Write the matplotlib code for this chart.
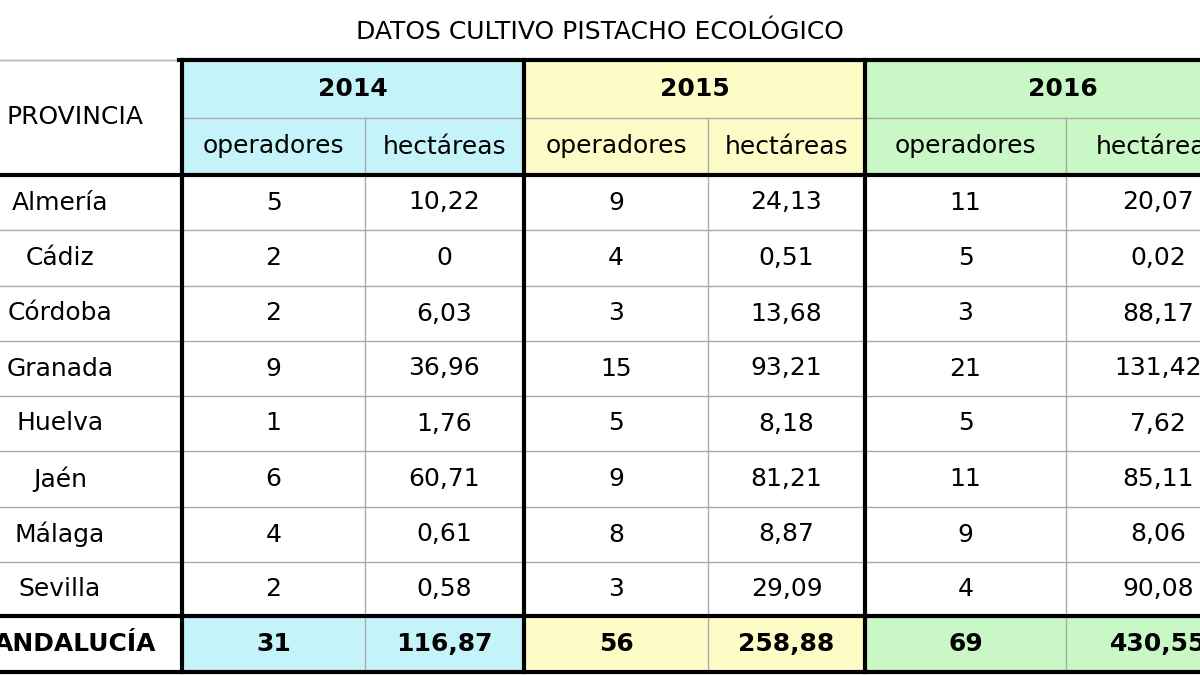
import matplotlib
matplotlib.use("Agg")
import matplotlib.pyplot as plt
from matplotlib.patches import Rectangle

title = "DATOS CULTIVO PISTACHO ECOLÓGICO"
years = ["2014", "2015", "2016"]
subheads = ["operadores", "hectáreas"]
provinces = ["Almería", "Cádiz", "Córdoba", "Granada", "Huelva", "Jaén", "Málaga", "Sevilla"]
ops_2014 = ["5", "2", "2", "9", "1", "6", "4", "2"]
ha_2014 = ["10,22", "0", "6,03", "36,96", "1,76", "60,71", "0,61", "0,58"]
ops_2015 = ["9", "4", "3", "15", "5", "9", "8", "3"]
ha_2015 = ["24,13", "0,51", "13,68", "93,21", "8,18", "81,21", "8,87", "29,09"]
ops_2016 = ["11", "5", "3", "21", "5", "11", "9", "4"]
ha_2016 = ["20,07", "0,02", "88,17", "131,42", "7,62", "85,11", "8,06", "90,08"]
total_label = "ANDALUCÍA"
totals = ["31", "116,87", "56", "258,88", "69", "430,55"]

colors = ["#c4f4fa", "#fdfcc6", "#c9f7c6"]
xcols = [-40, 182, 365, 524, 708, 865, 1066, 1250]
yrow = [60, 118, 175, 230, 286, 341, 396, 451, 507, 562, 616, 672]

fig = plt.figure(figsize=(12, 6.75), dpi=100)
ax = fig.add_axes([0, 0, 1, 1])
ax.set_xlim(0, 1200); ax.set_ylim(675, 0); ax.axis("off")
fs = 18
fam = ["DejaVu Sans"]

ax.text(600, 32, title, ha="center", va="center", fontsize=18, family=fam)
ax.plot([0, 1200], [60, 60], color="#bbbbbb", lw=1)

for g in range(3):
    x0, x1 = xcols[1 + 2 * g], xcols[3 + 2 * g]
    ax.add_patch(Rectangle((x0, yrow[0]), x1 - x0, yrow[2] - yrow[0], color=colors[g], zorder=0))
    ax.add_patch(Rectangle((x0, yrow[10]), x1 - x0, yrow[11] - yrow[10], color=colors[g], zorder=0))

for y in yrow[2:11]:
    ax.plot([xcols[0], 1200], [y, y], color="#aaaaaa", lw=1, zorder=1)
for g in range(3):
    xm = xcols[2 + 2 * g]
    ax.plot([xm, xm], [yrow[1], yrow[11]], color="#aaaaaa", lw=1, zorder=1)
    ax.plot([xcols[1 + 2 * g], xcols[3 + 2 * g]], [yrow[1], yrow[1]], color="#aaaaaa", lw=1, zorder=1)
for x in [xcols[1], xcols[3], xcols[5]]:
    ax.plot([x, x], [yrow[0], yrow[11]], color="black", lw=3, zorder=2)
ax.plot([xcols[1] - 3, 1200], [yrow[0], yrow[0]], color="black", lw=3, zorder=2)
ax.plot([0, 1200], [yrow[2], yrow[2]], color="black", lw=3, zorder=2)
ax.plot([0, 1200], [yrow[10], yrow[10]], color="black", lw=3, zorder=2)
ax.plot([0, 1200], [yrow[11], yrow[11]], color="black", lw=3, zorder=2)
ax.plot([0, xcols[1]], [yrow[0], yrow[0]], color="#aaaaaa", lw=1, zorder=1)

def cx(i):
    return (xcols[i] + xcols[i + 1]) / 2

def cy(r):
    return (yrow[r] + yrow[r + 1]) / 2

ax.text(75, (yrow[0] + yrow[2]) / 2, "PROVINCIA", ha="center", va="center", fontsize=fs, family=fam)
for g, yv in enumerate(years):
    ax.text((xcols[1 + 2 * g] + min(xcols[3 + 2 * g], 1200)) / 2 + (0 if g < 2 else 30), cy(0), yv,
            ha="center", va="center", fontsize=fs, fontweight="bold", family=fam)
    for k, s in enumerate(subheads):
        ax.text(cx(1 + 2 * g + k), cy(1), s, ha="center", va="center", fontsize=fs, family=fam)

cols = [ops_2014, ha_2014, ops_2015, ha_2015, ops_2016, ha_2016]
for r, p in enumerate(provinces):
    ax.text(60, cy(2 + r), p, ha="center", va="center", fontsize=fs, family=fam)
    for c, col in enumerate(cols):
        ax.text(cx(1 + c), cy(2 + r), col[r], ha="center", va="center", fontsize=fs, family=fam)
ax.text(75, cy(10), total_label, ha="center", va="center", fontsize=fs, fontweight="bold", family=fam)
for c, t in enumerate(totals):
    ax.text(cx(1 + c), cy(10), t, ha="center", va="center", fontsize=fs, fontweight="bold", family=fam)

fig.savefig("out.png", dpi=100)
